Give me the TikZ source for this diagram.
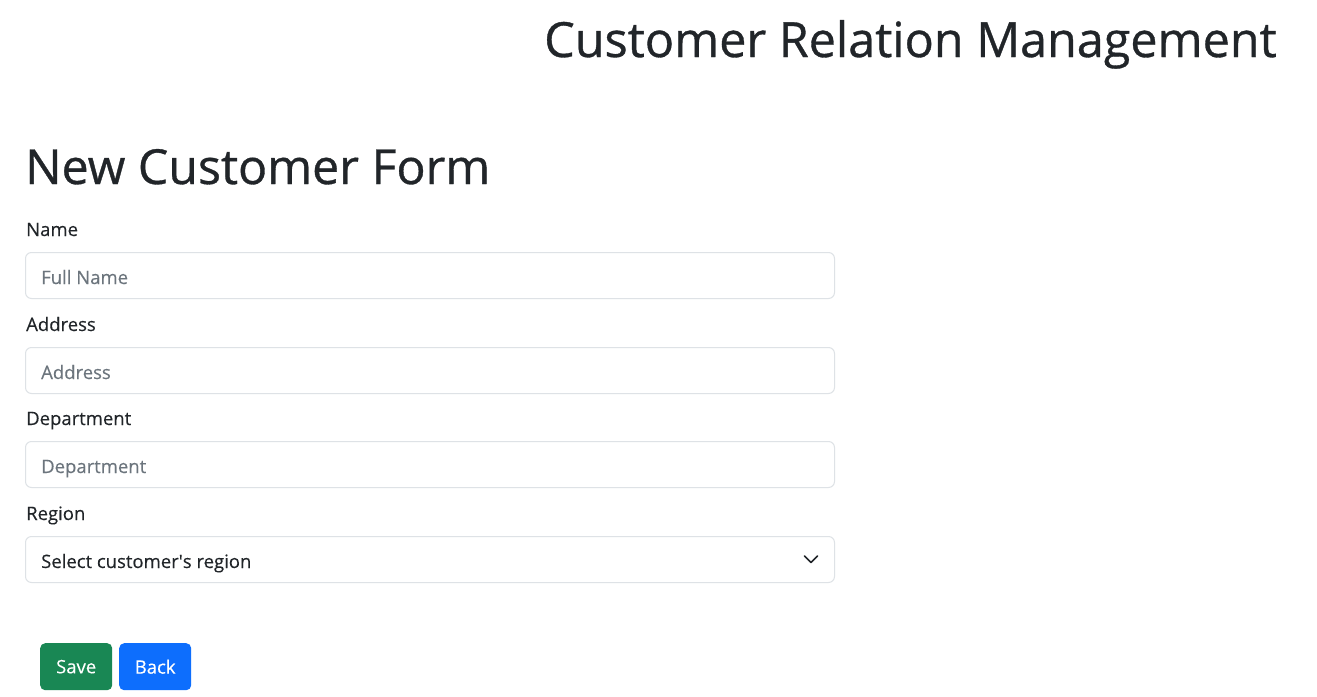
\documentclass[tikz,border=0pt]{standalone}
\usepackage{fontspec}
\setmainfont{Open Sans}
\newfontfamily\headfont[FakeBold=0.7]{Open Sans}
\newfontfamily\bodyfont[FakeBold=0.25]{Open Sans}
\usetikzlibrary{positioning}
\definecolor{ink}{HTML}{212529}
\definecolor{hint}{HTML}{6C757D}
\definecolor{rim}{HTML}{DEE2E6}
\definecolor{okgreen}{HTML}{198754}
\definecolor{goblue}{HTML}{0D6EFD}
\tikzset{
  lbl/.style={anchor=base west, inner sep=0pt, text=ink, font=\bodyfont\fontsize{18.5}{20}\selectfont},
  field/.style={draw=rim, line width=1pt, rounded corners=6pt, anchor=north west,
    minimum width=809pt, minimum height=46pt, inner sep=0pt},
  hintlbl/.style={anchor=base west, inner sep=0pt, text=hint, font=\bodyfont\fontsize{18.5}{20}\selectfont},
  btn/.style={rounded corners=5pt, anchor=north west, minimum width=72pt,
    minimum height=47pt, inner sep=0pt, text=white, font=\bodyfont\fontsize{18.5}{20}\selectfont}
}
\begin{document}
\begin{tikzpicture}[x=1pt,y=-1pt]
  \useasboundingbox[fill=white] (0,0) rectangle (1317,696);
  % headings
  \node[anchor=base east, inner sep=0pt, text=ink, font=\headfont\fontsize{48.5}{52}\selectfont] (title) at (1277,57) {Customer Relation Management};
  \node[anchor=base west, inner sep=0pt, text=ink, font=\headfont\fontsize{48.3}{52}\selectfont] (formhead) at (25,184) {New Customer Form};
  % name
  \node[lbl] (namelbl) at (26,236) {Name};
  \node[field] (namebox) at (25,252) {};
  \node[hintlbl] (namehint) at ([xshift=16pt,yshift=-32pt]namebox.north west) {Full Name};
  % address
  \node[lbl] (addrlbl) at (26,331) {Address};
  \node[field] (addrbox) at (25,347) {};
  \node[hintlbl] (addrhint) at ([xshift=16pt,yshift=-32pt]addrbox.north west) {Address};
  % department
  \node[lbl] (deptlbl) at (26,425) {Department};
  \node[field] (deptbox) at (25,441) {};
  \node[hintlbl] (depthint) at ([xshift=16pt,yshift=-32pt]deptbox.north west) {Department};
  % region
  \node[lbl] (reglbl) at (26,520) {Region};
  \node[field] (regbox) at (25,536) {};
  \node[lbl] (regtext) at ([xshift=16pt,yshift=-32pt]regbox.north west) {Select customer\textquotesingle s region};
  \coordinate (chev) at ([xshift=-24pt]regbox.east);
  \draw[ink, line width=1.6pt, line cap=round, line join=round]
    ([shift={(-6.5pt,3.5pt)}]chev) -- ([yshift=-3pt]chev) -- ([shift={(6.5pt,3.5pt)}]chev);
  % buttons
  \node[btn, fill=okgreen] (save) at (40,643) {Save};
  \node[btn, fill=goblue] (back) at (119,643) {Back};
\end{tikzpicture}
\end{document}
